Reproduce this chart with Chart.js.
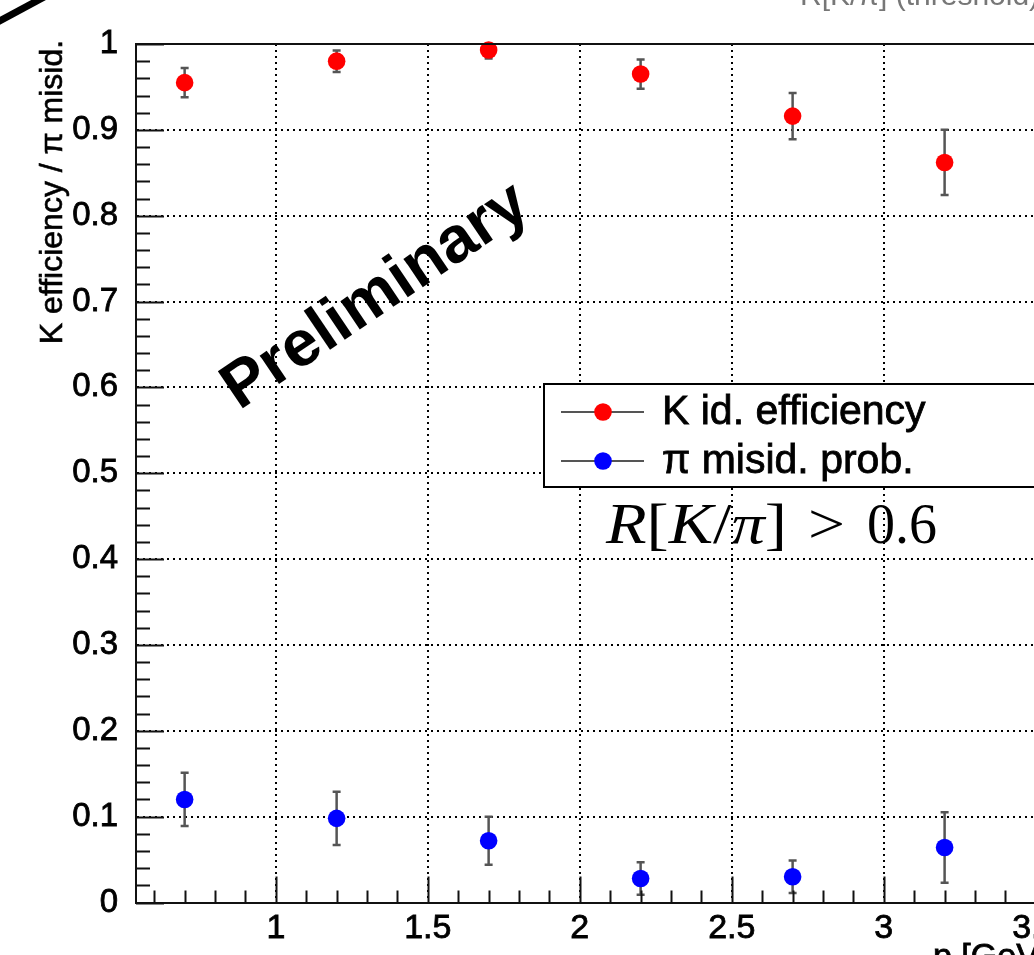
<!DOCTYPE html>
<html>
<head>
<meta charset="utf-8">
<script src="https://cdn.jsdelivr.net/npm/chart.js@4.4.1/dist/chart.umd.min.js"></script>
<style>
  html, body { margin: 0; padding: 0; background: #fff; overflow: hidden; }
  #wrap { width: 1034px; height: 955px; overflow: hidden; position: relative; }
  canvas { display: block; }
</style>
</head>
<body>
<div id="wrap"><canvas id="pidChart" width="1200" height="955"></canvas></div>
<script>
// momentum bins (GeV/c)
const momentum = [0.7, 1.2, 1.7, 2.2, 2.7, 3.2];
// K identification efficiency and errors
const kEff = [0.955, 0.980, 0.993, 0.965, 0.916, 0.862];
const kEffErr = [0.017, 0.0125, 0.010, 0.017, 0.027, 0.038];
// pion misidentification probability and errors
const piMisid = [0.120, 0.098, 0.072, 0.028, 0.030, 0.064];
const piMisidErr = [0.031, 0.031, 0.028, 0.019, 0.019, 0.041];

const xTicks = [1, 1.5, 2, 2.5, 3, 3.5];
const yTicks = [0, 0.1, 0.2, 0.3, 0.4, 0.5, 0.6, 0.7, 0.8, 0.9, 1];
const legendLabels = ['K id. efficiency', 'π misid. prob.'];

const SANS = '"Liberation Sans", Helvetica, Arial, sans-serif';
const SERIF = '"Liberation Serif", "Times New Roman", serif';

// filled text with a thin outline, ROOT pngs look a bit heavier
function heavyText(ctx, text, x, y, stroke) {
    ctx.lineWidth = stroke;
    ctx.strokeStyle = ctx.fillStyle;
    ctx.strokeText(text, x, y);
    ctx.fillText(text, x, y);
}

// error bars drawn under the markers, clipped to the frame like ROOT does
const errorBars = {
    id: 'errorBars',
    beforeDatasetsDraw(chart) {
        const { ctx, chartArea, scales: { x, y } } = chart;
        ctx.save();
        ctx.beginPath();
        ctx.rect(chartArea.left, chartArea.top, chartArea.right - chartArea.left, chartArea.bottom - chartArea.top);
        ctx.clip();
        ctx.strokeStyle = '#555';
        ctx.lineWidth = 2.5;
        chart.data.datasets.forEach(ds => {
            ds.data.forEach((p, i) => {
                const px = x.getPixelForValue(p.x);
                const top = y.getPixelForValue(p.y + ds.errors[i]);
                const bot = y.getPixelForValue(p.y - ds.errors[i]);
                ctx.beginPath();
                ctx.moveTo(px, top); ctx.lineTo(px, bot);
                ctx.moveTo(px - 4, top); ctx.lineTo(px + 4, top);
                ctx.moveTo(px - 4, bot); ctx.lineTo(px + 4, bot);
                ctx.stroke();
            });
        });
        ctx.restore();
    }
};

// ROOT style frame: inward ticks, top frame line, legend, labels
const rootFrame = {
    id: 'rootFrame',
    afterDraw(chart) {
        const { ctx, chartArea: area, scales: { x, y } } = chart;
        ctx.save();
        ctx.strokeStyle = '#111';
        ctx.lineWidth = 2;

        // y ticks: major every 0.1, minor every 0.02
        for (let k = 0; k <= 50; k++) {
            const py = Math.round(y.getPixelForValue(k * 0.02)) + 0.5;
            const len = k % 5 === 0 ? 28 : 14;
            ctx.beginPath();
            ctx.moveTo(area.left, py); ctx.lineTo(area.left + len, py);
            ctx.stroke();
        }
        // x ticks: major every 0.5, minor every 0.1
        for (let k = 6; k <= 38; k++) {
            const px = Math.round(x.getPixelForValue(k * 0.1)) + 0.5;
            const len = k % 5 === 0 ? 26 : 12;
            ctx.beginPath();
            ctx.moveTo(px, area.bottom); ctx.lineTo(px, area.bottom - len);
            ctx.stroke();
        }
        // top frame line
        ctx.beginPath();
        ctx.moveTo(area.left, area.top); ctx.lineTo(area.right, area.top);
        ctx.stroke();

        // legend box
        const lx = 544, ly = 384, lh = 103;
        ctx.fillStyle = '#fff';
        ctx.fillRect(lx, ly, 600, lh);
        ctx.strokeStyle = '#000';
        ctx.lineWidth = 2;
        ctx.strokeRect(lx, ly, 600, lh);
        chart.data.datasets.forEach((ds, i) => {
            const ry = 412 + i * 49;
            ctx.strokeStyle = '#555';
            ctx.lineWidth = 2;
            ctx.beginPath();
            ctx.moveTo(561, ry); ctx.lineTo(644, ry);
            ctx.stroke();
            ctx.fillStyle = ds.backgroundColor;
            ctx.beginPath();
            ctx.arc(603, ry, 8.8, 0, Math.PI * 2);
            ctx.fill();
            ctx.fillStyle = '#000';
            ctx.font = '41px ' + SANS;
            ctx.textBaseline = 'middle';
            ctx.textAlign = 'left';
            heavyText(ctx, legendLabels[i], 662, ry + 1, 0.8);
        });

        // cut label R[K/pi] > 0.6, LaTeX-like spacing
        const lhs = [['R', true], ['[', false], ['K', true], ['/', false], ['π', true], [']', false]];
        ctx.fillStyle = '#000';
        ctx.textBaseline = 'alphabetic';
        ctx.textAlign = 'left';
        let w = 0;
        lhs.forEach(([t, it]) => {
            ctx.font = (it ? 'italic ' : '') + '56px ' + SERIF;
            w += ctx.measureText(t).width;
        });
        ctx.save();
        ctx.translate(606, 543);
        ctx.scale(181 / w, 1);
        let cx = 0;
        lhs.forEach(([t, it]) => {
            ctx.font = (it ? 'italic ' : '') + '56px ' + SERIF;
            ctx.fillText(t, cx, 0);
            cx += ctx.measureText(t).width;
        });
        ctx.restore();
        ctx.font = '56px ' + SERIF;
        ctx.save();
        ctx.translate(808, 543);
        ctx.scale(37 / ctx.measureText('>').width, 1);
        ctx.fillText('>', 0, 0);
        ctx.restore();
        ctx.fillText('0.6', 867, 543);

        // y axis title
        ctx.save();
        ctx.translate(62, 192);
        ctx.rotate(-Math.PI / 2);
        ctx.font = '32px ' + SANS;
        ctx.textAlign = 'center';
        ctx.textBaseline = 'alphabetic';
        heavyText(ctx, 'K efficiency / π misid.', 0, 0, 0.6);
        ctx.restore();

        // x axis title (cut by the image edge)
        ctx.font = '34px ' + SANS;
        ctx.textAlign = 'left';
        heavyText(ctx, 'p [GeV/c]', 933, 967, 0.8);

        // title remnant at the top edge
        ctx.font = '30px ' + SANS;
        ctx.fillStyle = '#777';
        ctx.fillText('R[K/π] (threshold)', 800, 5);

        // Preliminary stamp
        ctx.save();
        ctx.translate(376, 297);
        ctx.rotate(-34 * Math.PI / 180);
        ctx.font = 'bold 65px ' + SANS;
        ctx.fillStyle = '#000';
        ctx.textAlign = 'center';
        ctx.textBaseline = 'middle';
        ctx.fillText('Preliminary', 0, 0);
        ctx.restore();

        // corner stroke at top left
        ctx.strokeStyle = '#000';
        ctx.lineWidth = 7;
        ctx.beginPath();
        ctx.moveTo(-6, 24); ctx.lineTo(46, -4);
        ctx.stroke();

        ctx.restore();
    }
};

const ctx = document.getElementById('pidChart').getContext('2d');
new Chart(ctx, {
    type: 'scatter',
    data: {
        datasets: [{
            label: legendLabels[0],
            data: momentum.map((p, i) => ({ x: p, y: kEff[i] })),
            errors: kEffErr,
            backgroundColor: '#ff0000',
            borderWidth: 0,
            pointRadius: 8.8,
            pointHoverRadius: 8.8,
            clip: false
        }, {
            label: legendLabels[1],
            data: momentum.map((p, i) => ({ x: p, y: piMisid[i] })),
            errors: piMisidErr,
            backgroundColor: '#0000ff',
            borderWidth: 0,
            pointRadius: 8.8,
            pointHoverRadius: 8.8,
            clip: false
        }]
    },
    options: {
        responsive: false,
        animation: false,
        layout: { padding: { top: 44, left: 0, right: 73, bottom: 0 } },
        plugins: {
            legend: { display: false },
            tooltip: { enabled: false }
        },
        scales: {
            x: {
                type: 'linear',
                min: 0.54,
                max: 3.8,
                afterBuildTicks: axis => { axis.ticks = xTicks.map(v => ({ value: v })); },
                afterFit: axis => { axis.height = 52.5; },
                ticks: {
                    color: '#000',
                    font: { family: SANS, size: 34 },
                    textStrokeColor: '#000',
                    textStrokeWidth: 0.8,
                    padding: 6,
                    maxRotation: 0,
                    autoSkip: false,
                    callback: v => v.toString()
                },
                grid: { color: '#000', lineWidth: 2, drawTicks: false },
                border: { display: true, color: '#111', width: 2, dash: [2, 4] }
            },
            y: {
                type: 'linear',
                min: 0,
                max: 1,
                afterBuildTicks: axis => { axis.ticks = yTicks.map(v => ({ value: v })); },
                afterFit: axis => { axis.width = 136; },
                ticks: {
                    color: '#000',
                    font: { family: SANS, size: 33 },
                    textStrokeColor: '#000',
                    textStrokeWidth: 0.8,
                    padding: 18,
                    autoSkip: false,
                    callback: v => v.toString()
                },
                grid: { color: '#000', lineWidth: 2, drawTicks: false },
                border: { display: true, color: '#111', width: 2, dash: [2, 4] }
            }
        }
    },
    plugins: [errorBars, rootFrame]
});
</script>
</body>
</html>
